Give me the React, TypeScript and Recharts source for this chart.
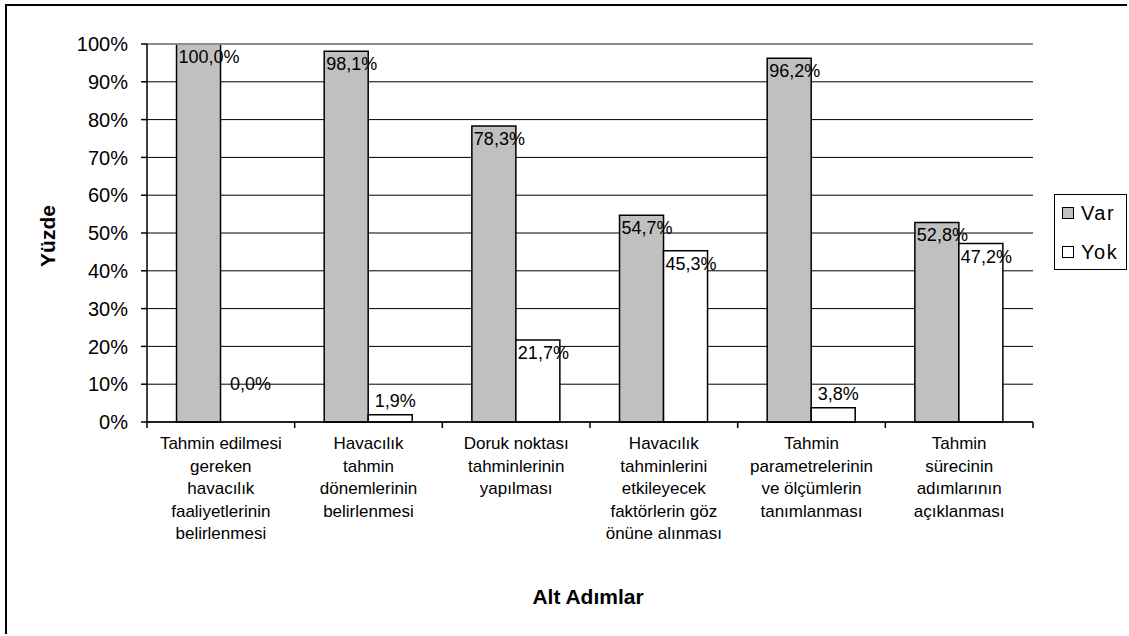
import React from 'react';
import {
  BarChart,
  Bar,
  XAxis,
  YAxis,
  CartesianGrid,
  Legend,
  LabelList,
  Label,
  ReferenceLine
} from 'recharts';

const categories: string[][] = [
  ['Tahmin edilmesi', 'gereken', 'havacılık', 'faaliyetlerinin', 'belirlenmesi'],
  ['Havacılık', 'tahmin', 'dönemlerinin', 'belirlenmesi'],
  ['Doruk noktası', 'tahminlerinin', 'yapılması'],
  ['Havacılık', 'tahminlerini', 'etkileyecek', 'faktörlerin göz', 'önüne alınması'],
  ['Tahmin', 'parametrelerinin', 've ölçümlerin', 'tanımlanması'],
  ['Tahmin', 'sürecinin', 'adımlarının', 'açıklanması']
];
const varValues = [100.0, 98.1, 78.3, 54.7, 96.2, 52.8];
const yokValues = [0.0, 1.9, 21.7, 45.3, 3.8, 47.2];
const yTicks = [0, 10, 20, 30, 40, 50, 60, 70, 80, 90, 100];
const seriesNames = ['Var', 'Yok'];
const xTitle = 'Alt Adımlar';
const yTitle = 'Yüzde';

const data = categories.map((lines, i) => ({
  key: lines.join(' '),
  lines,
  var: varValues[i],
  yok: yokValues[i]
}));

const W = 1129;
const H = 636;
const Y_AXIS_W = 147;
const X_AXIS_H = 150;
const M = { top: 44, right: 96, bottom: 64, left: 0 };
const PLOT_W = W - M.left - M.right - Y_AXIS_W;
const BAND = PLOT_W / categories.length;
const FONT = '"Liberation Sans", Arial, sans-serif';

const fmt = (v: number) => v.toFixed(1).replace('.', ',') + '%';

const valueText = (x: number, y: number, v: number, anchor: 'start' | 'middle') => (
  <text x={x} y={y} fontSize={18} fontFamily={FONT} fill="#000" textAnchor={anchor}>
    {fmt(v)}
  </text>
);

// Label placement: inside the top of tall bars, just above short ones,
// and higher up for an empty (zero) bar, as in the source chart.
const placeLabel = (x: number, y: number, width: number, height: number, v: number) => {
  if (v >= 10) return valueText(x + 2, y + 19, v, 'start');
  if (v === 0) return valueText(x + width / 2 + 8, y + height - 32, v, 'middle');
  return valueText(x + width / 2 + 5, y - 8, v, 'middle');
};

const renderVar = (p: any) => {
  const { x, y, width, height, value } = p;
  const v = Number(value);
  const idx = typeof p.index === 'number' ? p.index : varValues.indexOf(v);
  const yok = yokValues[idx];
  return (
    <g>
      {placeLabel(x, y, width, height, v)}
      {yok === 0 && placeLabel(x + width, y + height, width, 0, yok)}
    </g>
  );
};

const renderYok = (p: any) => {
  const { x, y, width, height, value } = p;
  const v = Number(value);
  if (v === 0) return null;
  return placeLabel(x, y, width, height, v);
};

const CategoryTick = (p: any) => {
  const { x, y, payload, index } = p;
  const lines: string[] = categories[index] ?? [String(payload.value)];
  return (
    <g>
      <line x1={x - BAND / 2} x2={x - BAND / 2} y1={y} y2={y + 6} stroke="#000" strokeWidth={1.5} />
      {index === categories.length - 1 && (
        <line x1={x + BAND / 2} x2={x + BAND / 2} y1={y} y2={y + 6} stroke="#000" strokeWidth={1.5} />
      )}
      <text x={x} y={y + 27} textAnchor="middle" fontSize={17} fontFamily={FONT} fill="#000">
        {lines.map((l, i) => (
          <tspan key={i} x={x} dy={i === 0 ? 0 : 22.5}>
            {l}
          </tspan>
        ))}
      </text>
    </g>
  );
};

const LegendBox = () => (
  <div
    style={{
      border: '1px solid #000',
      background: '#fff',
      width: 71,
      height: 74,
      position: 'relative',
      fontFamily: FONT,
      fontSize: 20
    }}
  >
    {seriesNames.map((name, i) => (
      <div key={name} style={{ position: 'absolute', left: 7, top: 6 + i * 39, height: 24, display: 'flex', alignItems: 'center' }}>
        <span
          style={{
            display: 'inline-block',
            width: 10,
            height: 10,
            border: '1px solid #000',
            background: i === 0 ? '#c0c0c0' : '#fff',
            marginRight: 7
          }}
        />
        <span style={{ letterSpacing: 1.5 }}>{name}</span>
      </div>
    ))}
  </div>
);

export default function App() {
  return (
    <div style={{ position: 'absolute', left: 0, top: 0, width: W, height: H, background: '#fff' }}>
      <div
        style={{
          position: 'absolute',
          left: 5,
          top: 4,
          width: 1120,
          height: 628,
          borderTop: '2px solid #000',
          borderLeft: '2px solid #000'
        }}
      />
      <div style={{ position: 'absolute', left: 0, top: 0 }}>
        <BarChart
          width={W}
          height={H}
          data={data}
          margin={M}
          barCategoryGap="20%"
          barGap={0}
          style={{ fontFamily: FONT }}
        >
          <CartesianGrid vertical={false} stroke="#000" strokeWidth={1} />
          <ReferenceLine y={100} stroke="#8c8c8c" strokeWidth={2} />
          <XAxis
            dataKey="key"
            height={X_AXIS_H}
            interval={0}
            tickSize={0}
            tickMargin={0}
            tickLine={false}
            axisLine={{ stroke: '#000', strokeWidth: 1.5 }}
            tick={<CategoryTick />}
          >
            <Label
              content={(p: any) => {
                const vb = p.viewBox || { x: Y_AXIS_W, y: 422, width: PLOT_W, height: X_AXIS_H };
                return (
                  <text
                    x={vb.x + vb.width / 2 - 2}
                    y={vb.y + 182}
                    textAnchor="middle"
                    fontSize={21}
                    fontWeight="bold"
                    fontFamily={FONT}
                    fill="#000"
                  >
                    {xTitle}
                  </text>
                );
              }}
            />
          </XAxis>
          <YAxis
            width={Y_AXIS_W}
            domain={[0, 100]}
            ticks={yTicks}
            interval={0}
            tickFormatter={(v: number) => `${v}%`}
            tickSize={6}
            tickMargin={13}
            tick={{ fill: '#000', fontSize: 20, fontFamily: FONT }}
            tickLine={{ stroke: '#000', strokeWidth: 1.5 }}
            axisLine={{ stroke: '#000', strokeWidth: 1.5 }}
          >
            <Label
              content={(p: any) => {
                const vb = p.viewBox || { x: 0, y: 44, width: Y_AXIS_W, height: 378 };
                const cx = 47;
                const cy = vb.y + vb.height / 2 + 3;
                return (
                  <text
                    x={cx}
                    y={cy}
                    transform={`rotate(-90 ${cx} ${cy})`}
                    textAnchor="middle"
                    dominantBaseline="central"
                    fontSize={21}
                    fontWeight="bold"
                    fontFamily={FONT}
                    fill="#000"
                  >
                    {yTitle}
                  </text>
                );
              }}
            />
          </YAxis>
          <YAxis
            yAxisId="right"
            orientation="right"
            width={0}
            domain={[0, 100]}
            tick={false}
            tickLine={false}
            axisLine={{ stroke: '#8c8c8c', strokeWidth: 2 }}
          />
          <Legend
            verticalAlign="middle"
            align="center"
            content={() => <LegendBox />}
            wrapperStyle={{ left: 1054, top: 194, width: 73, height: 76 }}
          />
          <Bar dataKey="var" name={seriesNames[0]} fill="#c0c0c0" stroke="#000" strokeWidth={1.5} isAnimationActive={false}>
            <LabelList dataKey="var" content={renderVar} />
          </Bar>
          <Bar dataKey="yok" name={seriesNames[1]} fill="#ffffff" stroke="#000" strokeWidth={1.5} isAnimationActive={false}>
            <LabelList dataKey="yok" content={renderYok} />
          </Bar>
        </BarChart>
      </div>
    </div>
  );
}
